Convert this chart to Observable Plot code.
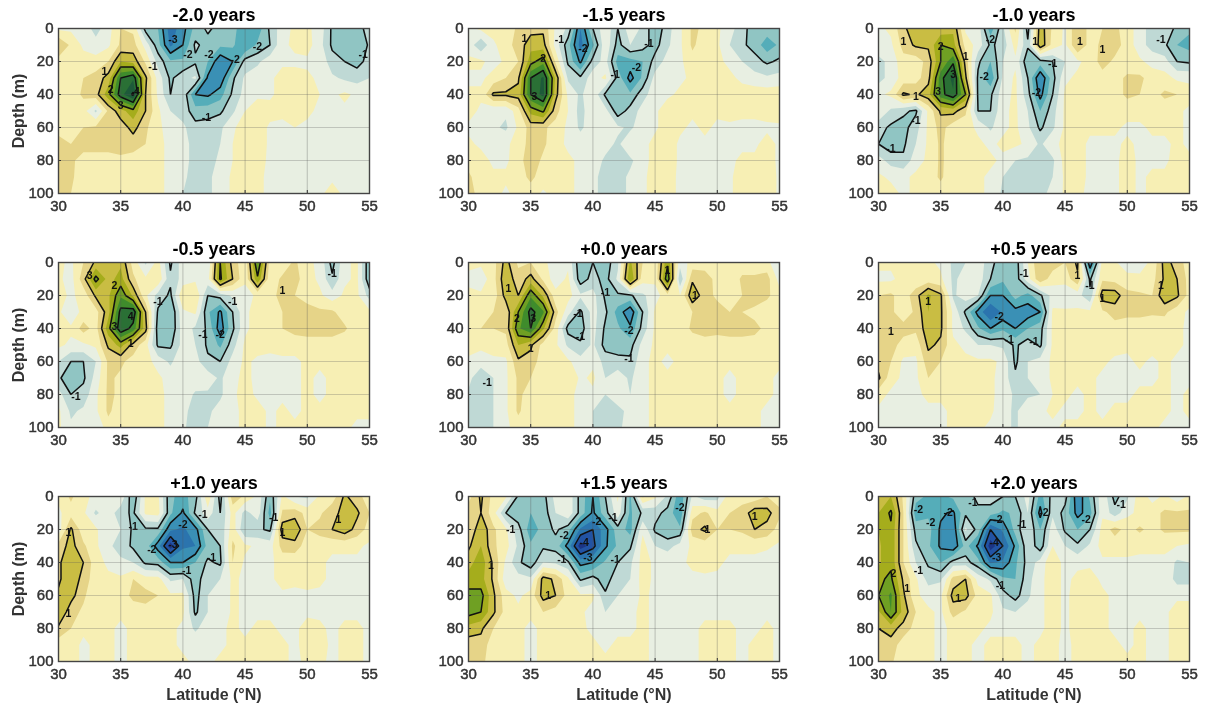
<!DOCTYPE html>
<html><head><meta charset="utf-8">
<script src="https://cdn.jsdelivr.net/npm/d3@7"></script>
<script src="https://cdn.jsdelivr.net/npm/@observablehq/plot@0.6"></script>
<style>
html,body{margin:0;background:#fff}
#chart{position:relative;width:1207px;height:713px;overflow:hidden;filter:blur(.55px)}
#chart svg{position:absolute;background:none;overflow:visible}
#chart svg text{font-family:"Liberation Sans",Arial,sans-serif}
#chart g[aria-label="x-axis tick label"] text,#chart g[aria-label="y-axis tick label"] text{font-size:15px;font-weight:400;stroke:#333;stroke-width:.45px}
#chart g[aria-label="x-axis label"] text,#chart g[aria-label="y-axis label"] text{font-size:16px;font-weight:700;stroke:none}
</style></head><body><div id="chart"></div>
<script>
// values in tenths of a unit; rows are depth 0,10..100; columns are latitude 30,31..55
const latitudes=[30,55], depths=[0,100];
const gridM20=[
[-1,-1,-2,-7,-2,5,4,-12,-15,-28,-22,-13,-9,-12,-13,-19,-18,-9,-2,1,1,-2,-11,-13,-13,-7],
[10,4,-1,-3,-1,6,7,-2,-13,-26,-20,-9,-12,-14,-14,-20,-14,-10,-1,1,2,-3,-11,-12,-15,-9],
[3,3,2,2,5,15,13,4,-7,-14,-14,-11,-15,-24,-20,-8,-6,-2,-1,-1,-1,-1,-8,-10,-12,-8],
[2,3,5,7,12,30,34,11,-2,-11,-7,-4,-21,-24,-11,-4,-2,-1,2,2,1,-1,-4,-6,-7,-5],
[2,2,6,8,18,33,41,10,-1,-10,-6,-20,-21,-17,-9,-3,-1,-1,2,3,2,0,-1,1,-1,-1],
[2,3,2,-6,6,13,18,10,1,-5,-7,-13,-12,-11,-6,0,3,2,1,3,1,-1,-1,-1,-1,-1],
[3,3,5,6,5,7,12,6,1,-2,-4,-8,-8,-6,-1,3,3,-1,-1,0,-1,-1,-1,-1,-1,-1],
[7,5,7,7,7,9,7,5,1,-1,-3,-7,-7,-5,0,3,3,-1,-1,-1,-1,-1,-1,-1,-1,-1],
[7,6,3,3,3,3,3,2,1,-1,-3,-7,-7,-4,0,3,2,-1,-1,-1,-1,-1,-1,-1,-1,-1],
[8,6,2,2,2,2,2,2,1,-1,-4,-7,-6,-3,1,2,1,-1,-1,-1,-1,-1,-1,-1,-1,-1],
[8,5,2,2,2,2,2,2,1,-1,-5,-8,-6,-3,1,2,1,-1,-1,-1,-1,-1,2,-1,-1,-1]];
const gridM15=[
[-1,1,2,2,6,8,9,-1,-6,-25,-10,-1,-10,-2,-6,-14,-7,-1,6,4,1,-3,-8,-13,-12,-11],
[-2,-9,-1,3,7,13,12,-2,-13,-27,-16,-1,-12,-5,-8,-12,-6,-1,6,2,1,-5,-9,-12,-18,-14],
[1,1,-2,1,5,18,23,4,-11,-21,-8,-3,-17,-17,-15,-8,-3,-1,3,1,1,-1,-5,-8,-11,-9],
[-1,-1,2,5,9,30,36,14,-6,-9,-2,1,-12,-22,-14,-3,-2,-1,1,1,1,1,-1,-3,-4,-3],
[1,1,11,11,12,30,37,12,-1,-6,-1,-11,-15,-14,-7,-2,-1,1,2,3,3,3,2,3,3,3],
[2,-1,-4,-4,3,17,21,7,0,-7,-1,-3,-13,-8,-3,-1,3,1,1,1,1,2,1,1,2,3],
[-1,-2,-4,-6,1,7,6,3,-1,-6,-2,-1,-4,-6,-2,-1,3,1,-1,1,-1,-1,-1,-1,-1,-1],
[1,-1,-1,-1,2,7,6,2,-1,-2,-1,-3,-6,-1,-2,2,3,-1,-1,-1,-1,-1,-1,-1,2,-1],
[3,2,-1,-1,3,8,4,2,1,-1,-2,-6,-7,-6,-2,2,3,-1,-1,-1,-1,-1,1,1,2,-1],
[6,2,1,1,3,6,3,3,1,-1,-3,-8,-7,-4,-1,2,2,-1,-1,-1,-1,-1,3,1,3,-1],
[7,3,2,-1,2,3,-1,2,1,-1,-3,-8,-7,-4,-1,2,2,-1,-1,-1,-1,-1,3,1,3,-1]];
const gridM10=[
[-1,1,9,13,13,12,14,-1,-2,-18,-6,6,-12,13,4,-1,10,3,5,7,1,-1,-9,-5,-12,-14],
[-1,-1,7,11,11,20,17,3,-2,-11,-8,2,-9,14,3,-1,10,3,6,7,3,-3,-7,-9,-15,-17],
[-7,-3,3,2,7,20,29,8,-9,-15,-5,-1,-14,-12,-10,-5,-1,2,7,4,2,1,-2,-3,-10,-11],
[-7,-3,2,3,8,28,37,11,-11,-19,-4,1,-10,-25,-12,-1,1,2,3,3,6,6,3,2,-1,-1],
[-1,1,11,9,13,28,34,20,-11,-11,-2,1,-8,-22,-10,1,2,2,2,3,6,5,3,6,5,2],
[-1,-6,-9,-11,1,11,12,6,-10,-10,-1,1,-5,-15,-7,1,2,1,1,2,2,2,3,2,1,-1],
[-8,-11,-12,-7,1,7,2,2,-1,-6,-1,1,-4,-11,-6,1,2,1,1,1,-1,-1,1,1,1,-1],
[-10,-13,-11,-5,1,6,2,2,1,-1,1,1,-1,-6,-1,1,2,-1,-1,-1,1,-1,-1,-1,1,-1],
[-3,-7,-9,-2,1,6,2,2,1,1,-1,-5,-6,-8,-6,2,2,-1,-1,-1,2,-1,-1,-1,2,1],
[1,-1,-1,1,2,6,1,1,1,-1,-5,-8,-8,-8,-5,1,2,-1,-1,-1,2,-1,1,1,2,2],
[2,2,-1,1,1,2,1,1,1,-1,-6,-8,-7,-6,-4,1,1,-1,-1,-1,2,-1,1,1,2,2]];
const gridM05=[
[1,-1,5,11,15,14,3,-6,2,-11,-2,-1,-5,20,8,1,25,3,2,6,1,-1,-12,-1,1,-14],
[1,-2,8,22,13,17,6,1,4,-9,-3,-1,-2,21,10,1,19,2,6,7,2,-1,-9,-1,1,-14],
[2,-1,2,11,14,24,14,1,-7,-11,5,5,-10,-8,-4,-2,1,2,8,5,2,1,-3,1,1,-7],
[1,-4,2,3,13,32,34,10,-11,-15,-1,1,-14,-21,-10,-1,2,2,5,6,8,6,6,2,1,1],
[1,1,7,3,18,34,28,12,-13,-15,-2,-6,-11,-23,-11,-1,2,1,5,7,8,8,8,6,1,1],
[1,-1,-1,1,11,17,8,2,-11,-11,-3,-5,-11,-16,-7,1,2,1,2,2,2,2,2,1,1,1],
[-5,-10,-10,-5,6,6,3,2,-2,-6,-1,-3,-9,-10,-3,1,-1,-1,-1,-1,1,1,1,1,1,1],
[-9,-14,-11,-3,6,4,2,2,1,-2,-1,-1,-2,-6,-1,1,-1,-1,-1,-1,1,-1,1,1,1,1],
[-3,-10,-8,-1,6,4,2,2,1,-1,-1,-6,-6,-6,-1,2,-1,-1,-1,-1,1,-1,1,1,1,1],
[1,-6,-4,-1,6,2,2,1,1,-1,-3,-8,-6,-3,-1,1,2,-1,1,-1,1,1,1,1,1,1],
[1,-4,-3,-5,3,2,2,1,1,-1,-4,-8,-5,-2,-1,1,2,-1,1,1,1,1,1,1,-1,-1]];
const gridP00=[
[1,1,3,12,4,5,2,-4,-1,-14,-10,-13,-6,16,5,1,19,-3,2,2,1,1,2,2,2,-6],
[-1,-3,3,14,7,12,4,-3,1,-13,-8,-12,-4,20,2,1,24,-9,9,8,3,1,6,6,7,-2],
[1,1,2,12,10,24,14,2,2,-4,-3,-11,-11,-11,-6,-2,3,0,14,7,4,3,5,9,6,2],
[1,2,5,6,20,32,26,7,-3,-11,-3,-9,-17,-24,-10,1,1,2,5,6,7,5,5,3,2,1],
[1,5,5,6,24,30,16,3,-12,-13,-3,-11,-14,-19,-8,1,1,2,6,7,7,7,7,7,3,2],
[2,1,2,3,15,11,3,1,-6,-9,-4,-12,-13,-12,-3,1,1,1,2,3,2,3,3,2,1,1],
[-1,-2,-1,-1,9,8,2,1,1,-3,-1,-7,-8,-9,-1,1,-1,1,1,1,1,1,1,1,1,1],
[-3,-10,-5,-1,6,5,2,2,5,-1,1,-5,-2,-6,-1,1,1,1,1,1,1,-1,1,1,1,-1],
[-6,-7,-5,-1,6,3,2,1,1,-1,-1,-5,-3,-5,-1,1,1,1,1,1,1,-1,1,1,1,-1],
[-6,-7,-5,-1,6,1,1,1,1,-1,-5,-7,-6,-4,-1,1,1,1,1,1,1,1,1,1,-1,-2],
[-5,-7,-5,-1,2,1,1,1,1,-1,-5,-7,-6,-3,-1,1,1,1,1,1,1,1,1,1,-1,-2]];
const gridP05=[
[1,1,3,1,1,-1,-6,-5,-2,-8,-14,-13,0,10,8,5,11,-25,2,1,-5,-2,1,12,8,2],
[-1,-1,2,1,2,1,-6,-3,-2,-10,-14,-13,-2,9,2,2,9,-11,4,3,3,1,3,11,10,3],
[5,6,2,8,16,11,-6,-2,-5,-20,-20,-13,-17,-11,-3,-4,-3,-9,13,13,6,6,5,14,11,3],
[6,6,2,6,15,11,-1,-11,-22,-30,-24,-22,-23,-20,1,1,1,1,4,7,6,6,6,6,2,-1],
[6,10,7,6,13,11,-1,-6,-14,-20,-16,-20,-15,-12,1,1,1,1,2,3,3,3,1,2,1,-1],
[6,7,3,2,11,9,1,-1,-5,-5,-6,-11,-7,-11,1,1,1,1,2,2,1,1,2,1,1,-1],
[8,5,-1,-1,8,5,1,1,1,1,-1,-11,-5,-3,1,1,1,1,1,-1,-1,1,-1,1,-1,-1],
[11,2,-1,-1,5,2,1,5,5,1,-2,-9,-5,-3,1,1,1,1,-1,-1,-1,-1,-1,1,-1,-1],
[2,-1,-1,-1,1,1,1,1,1,1,-2,-6,-6,-5,0,1,-1,1,-1,-1,-1,1,1,1,-1,1],
[-1,-1,-1,-1,-1,-1,1,1,1,1,-3,-6,-1,-1,1,-1,-1,1,-1,1,1,1,1,1,-1,1],
[-1,-1,-1,-1,-1,-1,1,1,1,-1,-3,-6,-1,-1,-1,1,1,1,1,1,1,1,1,-1,-1,-1]];
const gridP10=[
[1,6,1,-1,-5,-1,-14,1,1,-14,-17,-12,4,-12,8,4,-1,-14,1,-5,-6,1,2,11,7,2],
[-1,3,1,-6,-2,-8,-11,1,2,-14,-21,-9,-2,-10,2,-7,-2,-17,6,8,3,4,9,11,11,5],
[-3,11,2,1,-5,-5,-11,-11,-11,-24,-26,-22,-10,-9,3,-10,-9,-11,13,14,5,7,10,13,8,3],
[7,12,6,1,-4,-7,-11,-12,-23,-38,-26,-25,-13,-10,6,1,-1,-2,7,8,2,2,1,1,1,-1],
[9,14,10,2,-1,-4,-5,-11,-12,-20,-20,-15,-9,-11,5,-1,-1,-1,2,1,1,1,-1,-1,-1,-1],
[9,14,8,2,1,1,5,2,2,-6,-5,-13,-6,-5,1,-1,-1,-1,2,1,2,1,-1,-1,-1,-1],
[11,12,6,1,1,1,7,7,5,1,1,-12,-5,-4,1,-1,-1,-1,-1,-1,-1,-1,-1,-1,-1,-1],
[15,7,4,1,1,1,1,3,1,1,1,-11,-5,-4,1,-1,-1,-1,-1,-1,-1,-1,-1,-1,-1,-1],
[9,5,1,1,1,-1,1,1,1,1,-1,-6,-2,-1,1,-1,1,1,-1,-1,2,1,-1,1,1,-1],
[2,2,-1,1,1,-1,1,1,1,1,-1,-1,-1,-1,1,1,1,1,1,-1,2,2,-1,1,1,-1],
[2,2,-1,1,1,-1,1,1,1,1,1,-1,-1,1,1,1,1,1,1,-1,1,1,-1,1,1,-1]];
const gridP15=[
[3,11,3,1,-11,-11,-12,-3,-1,-12,-20,-10,1,-16,6,1,-6,-19,-4,-8,-7,3,3,2,5,3],
[8,10,2,-10,-13,-15,-13,-5,-1,-12,-21,-12,-2,-16,-9,-8,-12,-19,3,6,2,5,7,13,12,6],
[5,14,6,1,-8,-18,-13,-9,-13,-26,-30,-22,-12,-17,-1,-11,-14,-14,8,11,5,5,6,10,8,3],
[9,15,6,2,-6,-14,-11,-12,-22,-38,-32,-21,-14,-11,2,-5,-7,-3,1,2,1,1,1,1,1,-1],
[13,18,9,-1,-9,-13,-5,-6,-9,-22,-20,-14,-10,-6,2,-1,-1,-1,1,2,1,-1,-1,-1,-3,-5],
[17,17,9,-3,-3,-4,12,9,1,-11,-8,-13,-6,-5,2,-1,-1,-1,-1,-1,-1,-1,-1,-1,-5,-5],
[22,22,11,2,-1,2,12,10,3,1,1,-9,-5,-3,1,-1,-1,-1,-1,-1,-1,-1,-1,-1,-1,-1],
[22,20,11,3,1,1,5,3,1,1,-2,-5,-4,-1,1,-1,-1,-1,-1,-1,-1,-1,-1,-1,-1,-1],
[13,11,5,2,1,-1,1,1,1,1,-1,-3,-1,-1,1,-1,-1,-1,-1,1,1,1,-1,-1,1,-1],
[7,8,2,1,1,-1,1,1,1,1,1,-1,1,1,1,-1,-1,-1,-1,1,1,1,-1,1,1,-1],
[6,7,1,1,1,-1,1,1,1,1,1,1,1,1,1,-1,-1,-1,-1,1,1,1,-1,1,1,-1]];
const gridP20=[
[13,15,4,-13,-16,-16,-14,-12,-9,-7,-10,-10,-3,-17,-8,-8,-24,-14,-1,-12,-6,3,-2,1,-3,1],
[15,21,5,-18,-16,-19,-21,-11,-11,-13,-16,-14,-5,-22,-6,-12,-22,-17,-1,-8,-1,1,3,6,6,6],
[15,19,5,-12,-13,-21,-24,-4,-12,-30,-24,-13,-5,-15,-2,-11,-15,-10,2,7,3,6,3,6,6,6],
[14,19,5,-9,-14,-21,-24,-13,-21,-38,-30,-19,-6,-13,0,-5,-9,-4,2,2,2,1,1,1,0,-1],
[14,19,5,-5,-11,-15,-8,-8,-13,-26,-24,-16,-8,-3,4,-2,-1,-1,-1,-1,-1,-1,-1,-1,-6,-5],
[19,21,9,1,-7,-6,7,10,-2,-6,-14,-15,-7,-1,2,-1,1,2,-1,-1,-1,-1,-1,-1,-7,-7],
[20,26,11,1,-2,-1,12,12,3,1,-8,-12,-6,-1,2,-1,2,2,1,-1,-1,-1,-1,-1,-1,-1],
[14,25,13,5,1,-1,7,4,1,1,-4,-5,-3,-1,2,-1,2,2,1,-1,-1,-1,-1,-1,2,2],
[10,12,8,3,1,-1,1,1,1,-1,-1,-1,-1,-1,2,-1,2,2,1,-1,-1,1,-1,-1,2,2],
[6,8,2,1,1,-1,1,1,-1,1,1,1,-1,1,1,-1,1,2,1,1,-1,1,-1,-1,2,2],
[6,6,1,1,1,-1,1,1,-1,1,1,1,-1,1,1,-1,1,1,1,1,1,1,-1,-1,2,2]];
const labelsM20=[[33.7,26,"1"],[34.2,37,"2"],[35,47,"3"],[36.3,38,"4"],[37.6,23,"-1"],[39.2,7,"-3"],[40.4,16,"-2"],[42.1,16,"-2"],[44.2,19,"-2"],[46,11,"-2"],[41.9,54,"-1"],[54.5,16,"-1"]];
const labelsM15=[[34.5,6,"1"],[35.3,41,"3"],[39.2,12,"-2"],[37.3,7,"-1"],[43.5,24,"-2"],[44.5,9,"-1"],[41.8,28,"-1"],[36,18,"2"]];
const labelsM10=[[32,8,"1"],[35,11,"2"],[37,17,"1"],[36,28,"3"],[34.8,38,"3"],[38.5,29,"-2"],[39,7,"-2"],[42.7,39,"-2"],[44,21,"-1"],[33,56,"-1"],[31,73,"-1"],[33,41,"1"],[52.7,7,"-1"],[48,13,"1"],[46.2,8,"1"],[42.6,8,"1"]];
const labelsM05=[[32.5,8,"3"],[34.5,14,"2"],[34.5,39,"3"],[35.8,33,"4"],[35.8,49,"1"],[38,24,"-1"],[41.6,44,"-1"],[43,44,"-2"],[31.4,81,"-1"],[52,7,"-1"],[48,17,"1"],[44,24,"-1"]];
const labelsP00=[[33.2,16,"1"],[33.9,34,"2"],[35.2,34,"3"],[42.9,41,"-2"],[42.9,58,"-1"],[41,18,"-1"],[31.5,73,"-1"],[48.2,20,"1"],[46,5,"1"],[35,52,"1"],[39,45,"-1"],[38.8,31,"-1"]];
const labelsP05=[[34,24,"1"],[39.7,33,"-2"],[31,42,"1"],[41.7,7,"-1"],[40.5,47,"-1"],[42.5,48,"-1"],[48,22,"1"],[46,8,"1"],[47,14,"-1"],[52.7,14,"1"]];
const labelsP10=[[30.8,22,"1"],[30.8,71,"1"],[36,18,"-1"],[37.5,32,"-2"],[39.2,29,"-3"],[40,17,"-2"],[40.3,45,"-1"],[42.3,37,"-1"],[41.6,11,"-1"],[48,22,"1"],[52.5,14,"1"],[47.3,13,"-1"]];
const labelsP15=[[33.4,20,"-1"],[37.5,38,"-1"],[37.7,24,"-2"],[39.3,28,"-4"],[39.6,37,"-3"],[40.3,15,"-2"],[41.8,38,"-1"],[41.6,13,"-1"],[31.8,42,"1"],[49.2,20,"1"],[36.4,60,"1"],[47,7,"-2"],[53,12,"1"]];
const labelsP20=[[33.2,8,"-2"],[34.2,16,"-2"],[35.6,10,"-2"],[37.6,4,"-1"],[39.6,14,"-2"],[39.3,28,"-4"],[39.5,37,"-3"],[33.2,45,"-1"],[39.8,54,"-1"],[36.4,62,"1"],[31.2,47,"2"],[32.3,56,"1"],[41.5,17,"-1"],[43.3,10,"-2"],[46.7,14,"-2"],[49.5,5,"-1"]];
const titles=["-2.0 years","-1.5 years","-1.0 years","-0.5 years","+0.0 years","+0.5 years","+1.0 years","+1.5 years","+2.0 years"];
const grids=[gridM20,gridM15,gridM10,gridM05,gridP00,gridP05,gridP10,gridP15,gridP20];
const labels=[labelsM20,labelsM15,labelsM10,labelsM05,labelsP00,labelsP05,labelsP10,labelsP15,labelsP20];
const bands=[-6,-4,-3.5,-3,-2.5,-2,-1.5,-1,-.5,0,.5,1,1.5,2,2.5,3,3.5,4];
const bandColors=["#172368","#172368","#1c3585","#2253a4","#2b74ae","#3a90b5","#55adb9","#90c5c3","#bfd9d5","#e8efe2","#f7efb4","#e6d488","#c9bd43","#a5ad1c","#6fa023","#3f8c2c","#2a7035","#1d5a3a","#174a38"];
const lineLevels=[-4,-3,-2,-1,1,2,3,4];
const lefts=[8,418,828], tops=[0,234,468];
const chart=document.getElementById("chart");
grids.forEach((g,i)=>{
  const col=i%3,row=Math.floor(i/3);
  const extent={width:g[0].length,height:g.length,x1:latitudes[0]-.5,x2:latitudes[1]+.5,y1:depths[0]-5,y2:depths[1]+5,value:d=>d/10,clip:true};
  const svg=Plot.plot({
    width:373,height:233,marginLeft:50,marginRight:12,marginTop:28,marginBottom:40,
    x:{domain:latitudes,ticks:[30,35,40,45,50,55]},
    y:{domain:depths,reverse:true,ticks:[0,20,40,60,80,100]},
    color:{type:"threshold",domain:bands,range:bandColors},
    marks:[
      Plot.contour(g.flat(),{...extent,thresholds:bands,fill:"value",stroke:"none"}),
      Plot.contour(g.flat(),{...extent,thresholds:lineLevels,fill:"none",stroke:"#111",strokeWidth:1.5}),
      Plot.text(labels[i],{x:d=>d[0],y:d=>d[1],text:d=>d[2],fontSize:10.5,fill:"#111",fontWeight:"bold"}),
      Plot.gridX({stroke:"#555",strokeOpacity:.28,strokeWidth:1.2,ticks:[35,40,45,50]}),
      Plot.gridY({stroke:"#555",strokeOpacity:.28,strokeWidth:1.2,ticks:[20,40,60,80]}),
      Plot.axisX({ticks:[30,35,40,45,50,55],tickSize:-3,tickPadding:10,fontSize:15,stroke:"#333",fill:"#333",label:row==2?"Latitude (°N)":null,labelAnchor:"center",labelArrow:"none",labelOffset:38}),
      Plot.axisY({ticks:[0,20,40,60,80,100],tickSize:-3,tickPadding:8,fontSize:15,stroke:"#333",fill:"#333",label:col==0?"Depth (m)":null,labelAnchor:"center",labelArrow:"none",labelOffset:46}),
      Plot.frame({stroke:"#444",strokeWidth:1.4}),
      Plot.text([titles[i]],{frameAnchor:"top",dy:-20,text:d=>d,fontSize:18,fontWeight:"bold",fill:"#000"})
    ]
  });
  svg.style.left=lefts[col]+"px";
  svg.style.top=tops[row]+"px";
  chart.appendChild(svg);
});
</script></body></html>
